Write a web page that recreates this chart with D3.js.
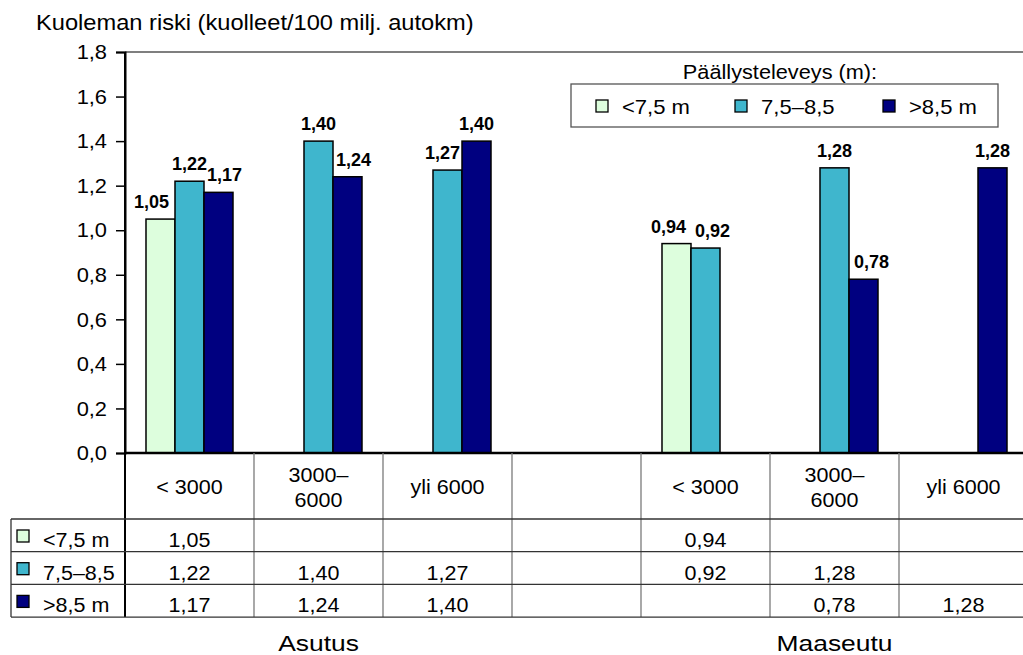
<!DOCTYPE html>
<html>
<head>
<meta charset="utf-8">
<script src="https://cdn.jsdelivr.net/npm/d3@7"></script>
<style>
  html, body { margin: 0; padding: 0; background: #fff; }
  svg { display: block; font-family: "Liberation Sans", Arial, sans-serif; }
</style>
</head>
<body>
<svg id="chart" width="1023" height="655"></svg>
<script>
// Traffic deaths per 100 million vehicle-km by traffic volume (AADT) class and paved width
const categoryLabels = ["< 3000", "3000–6000", "yli 6000", "", "< 3000", "3000–6000", "yli 6000"];
const seriesNames = ["<7,5 m", "7,5–8,5", ">8,5 m"];
const narrowValues = [1.05, null, null, null, 0.94, null, null];
const mediumValues = [1.22, 1.40, 1.27, null, 0.92, 1.28, null];
const wideValues   = [1.17, 1.24, 1.40, null, null, 0.78, 1.28];
const areaNames = ["Asutus", "Maaseutu"];
const areaCenterCategory = [1, 5];
const yTickValues = [0, 0.2, 0.4, 0.6, 0.8, 1.0, 1.2, 1.4, 1.6, 1.8];
const yTitle = "Kuoleman riski (kuolleet/100 milj. autokm)";
const legendTitle = "Päällysteleveys (m):";

const seriesValues = [narrowValues, mediumValues, wideValues];
const colors = ["#ddfedd", "#3fb6cd", "#000080"];

// Small sideways shifts that keep neighbouring value labels apart
const labelShift = { "0-0": -9, "2-0": 6, "2-1": 6, "1-2": -5, "0-4": -8, "1-4": 7, "2-5": 8 };

const fi = d3.formatLocale({ decimal: ",", thousands: " ", grouping: [3], currency: ["", " €"] });
const fmt2 = fi.format(".2f");
const fmt1 = fi.format(".1f");

const svg = d3.select("#chart");
const plotLeft = 125, plotTop = 52, plotBottom = 453, colStep = 129;
const plotRight = plotLeft + colStep * categoryLabels.length;

const x = d3.scaleBand().domain(d3.range(categoryLabels.length)).range([plotLeft, plotRight]).padding(0);
const xs = d3.scaleBand().domain(d3.range(seriesNames.length)).range([0, x.bandwidth()])
  .paddingInner(0).paddingOuter(0.724);
const y = d3.scaleLinear().domain([0, 1.8]).range([plotBottom, plotTop]);

// Text placed at (px, py) with a slightly widened glyph shape
function label(parent, px, py, str, size, widen, anchor) {
  return parent.append("text")
    .attr("transform", `translate(${px},${py}) scale(${widen},1)`)
    .attr("text-anchor", anchor || "start")
    .attr("font-size", size).attr("fill", "#000")
    .text(str);
}

// Title of the value axis
label(svg, 36, 30, yTitle, 21.5, 1.1);

// Plot frame: top edge
svg.append("line").attr("x1", plotLeft).attr("x2", 1023).attr("y1", plotTop).attr("y2", plotTop)
  .attr("stroke", "#000").attr("stroke-width", 1.2);

// Y axis
const yAxis = d3.axisLeft(y).tickValues(yTickValues).tickFormat(fmt1).tickSize(9).tickPadding(8);
const yg = svg.append("g").attr("transform", `translate(${plotLeft},0)`).call(yAxis);
yg.select(".domain").attr("stroke", "#000").attr("stroke-width", 2);
yg.selectAll(".tick line").attr("stroke", "#000").attr("stroke-width", 1.5);
yg.selectAll(".tick text")
  .attr("x", 0)
  .attr("transform", "translate(-18,0) scale(1.04,1)")
  .attr("font-size", 21).attr("fill", "#000")
  .attr("font-family", "Liberation Sans, Arial, sans-serif");

// Bars
const bars = [];
seriesValues.forEach((vals, s) => {
  vals.forEach((v, c) => { if (v != null) bars.push({ s, c, v }); });
});

svg.append("g").selectAll("rect").data(bars).join("rect")
  .attr("x", d => x(d.c) + xs(d.s))
  .attr("width", xs.bandwidth())
  .attr("y", d => y(d.v))
  .attr("height", d => y(0) - y(d.v))
  .attr("fill", d => colors[d.s])
  .attr("stroke", "#000").attr("stroke-width", 1.5);

// Value labels
svg.append("g").selectAll("text").data(bars).join("text")
  .attr("x", d => x(d.c) + xs(d.s) + xs.bandwidth() / 2 + (labelShift[`${d.s}-${d.c}`] || 0))
  .attr("y", d => y(d.v) - 11)
  .attr("text-anchor", "middle").attr("font-size", 18).attr("font-weight", "bold")
  .attr("fill", "#000")
  .text(d => fmt2(d.v));

// X axis baseline
svg.append("line").attr("x1", plotLeft - 1).attr("x2", 1023).attr("y1", plotBottom).attr("y2", plotBottom)
  .attr("stroke", "#000").attr("stroke-width", 2.5);

// Data table under the plot
const headerBottom = 519, rowH = 32.7, tableLeft = 11;
const rowTops = seriesNames.map((_, i) => headerBottom + i * rowH);
const tableBottom = headerBottom + seriesNames.length * rowH;
const tableFont = 20.5, tableWiden = 1.05;

const tg = svg.append("g");
// vertical column lines
d3.range(1, categoryLabels.length + 1).forEach(i => {
  const xx = i < categoryLabels.length ? x(i) : plotRight;
  tg.append("line").attr("x1", xx).attr("x2", xx).attr("y1", plotBottom).attr("y2", tableBottom)
    .attr("stroke", "#7a7a7a").attr("stroke-width", 1.3);
});
tg.append("line").attr("x1", plotLeft).attr("x2", plotLeft).attr("y1", plotTop).attr("y2", tableBottom)
  .attr("stroke", "#000").attr("stroke-width", 2);
tg.append("line").attr("x1", tableLeft).attr("x2", tableLeft).attr("y1", headerBottom).attr("y2", tableBottom)
  .attr("stroke", "#333").attr("stroke-width", 1.3);
// horizontal row lines
[...rowTops, tableBottom].forEach(yy => {
  tg.append("line").attr("x1", tableLeft).attr("x2", 1023).attr("y1", yy).attr("y2", yy)
    .attr("stroke", "#333").attr("stroke-width", 1.3);
});

// header cells (category names)
categoryLabels.forEach((lab, i) => {
  if (!lab) return;
  const cx = x(i) + x.bandwidth() / 2;
  if (lab.includes("–")) {
    const cut = lab.indexOf("–") + 1;
    label(tg, cx, 482, lab.slice(0, cut), tableFont, tableWiden, "middle");
    label(tg, cx, 507, lab.slice(cut), tableFont, tableWiden, "middle");
  } else {
    label(tg, cx, 494, lab, tableFont, tableWiden, "middle");
  }
});

// row headers with colour keys and values
seriesNames.forEach((name, s) => {
  const yy = rowTops[s];
  tg.append("rect").attr("x", 17).attr("y", yy + 11).attr("width", 12).attr("height", 12)
    .attr("fill", colors[s]).attr("stroke", "#000").attr("stroke-width", 1.3);
  label(tg, 43, yy + 28, name, tableFont, tableWiden);
  seriesValues[s].forEach((v, c) => {
    if (v == null) return;
    label(tg, x(c) + x.bandwidth() / 2, yy + 28, fmt2(v), tableFont, tableWiden, "middle");
  });
});

// area names under the table
areaNames.forEach((name, i) => {
  label(svg, x(areaCenterCategory[i]) + x.bandwidth() / 2, 651, name, 22, 1.2, "middle");
});

// Legend
const lg = svg.append("g");
label(lg, 780, 79, legendTitle, 20.5, 1.06, "middle");
lg.append("rect").attr("x", 571).attr("y", 84).attr("width", 427).attr("height", 43)
  .attr("fill", "#fff").attr("stroke", "#555").attr("stroke-width", 1.3);
const legendX = [596, 735, 883];
seriesNames.forEach((name, s) => {
  lg.append("rect").attr("x", legendX[s]).attr("y", 100).attr("width", 12).attr("height", 12)
    .attr("fill", colors[s]).attr("stroke", "#000").attr("stroke-width", 1.3);
  label(lg, legendX[s] + 26, 114, name, 21, 1.05);
});
</script>
</body>
</html>
